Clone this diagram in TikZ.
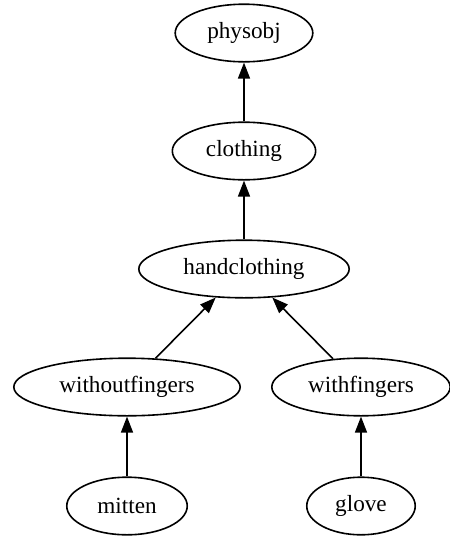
\documentclass[tikz,border=0pt]{standalone}
\usepackage{fontspec}
\setmainfont{Liberation Serif}
\usetikzlibrary{shapes.geometric,arrows.meta}
\begin{document}
\begin{tikzpicture}[x=0.625pt,y=-0.625pt,
  gnode/.style={draw,ellipse,line width=1pt,inner sep=0pt,minimum height=36pt,font=\fontsize{14.5pt}{16pt}\selectfont},
  gedge/.style={draw,line width=1pt,-{Triangle[length=10pt,width=7.5pt]}}]
\useasboundingbox (0,0) rectangle (449,539);
\node[gnode,minimum width=86pt] (physobj) at (244,33) {physobj};
\node[gnode,minimum width=89.6pt] (clothing) at (244,151) {clothing};
\node[gnode,minimum width=131.5pt] (handclothing) at (244,269) {handclothing};
\node[gnode,minimum width=141.5pt] (withoutfingers) at (127,387) {withoutfingers};
\node[gnode,minimum width=111.5pt] (withfingers) at (361,387) {withfingers};
\node[gnode,minimum width=75.3pt] (mitten) at (127,506) {mitten};
\node[gnode,minimum width=67.8pt] (glove) at (361,506) {glove};
\draw[gedge] (clothing) -- (physobj);
\draw[gedge] (handclothing) -- (clothing);
\draw[gedge] (withoutfingers) -- (handclothing);
\draw[gedge] (withfingers) -- (handclothing);
\draw[gedge] (mitten) -- (withoutfingers);
\draw[gedge] (glove) -- (withfingers);
\end{tikzpicture}
\end{document}
